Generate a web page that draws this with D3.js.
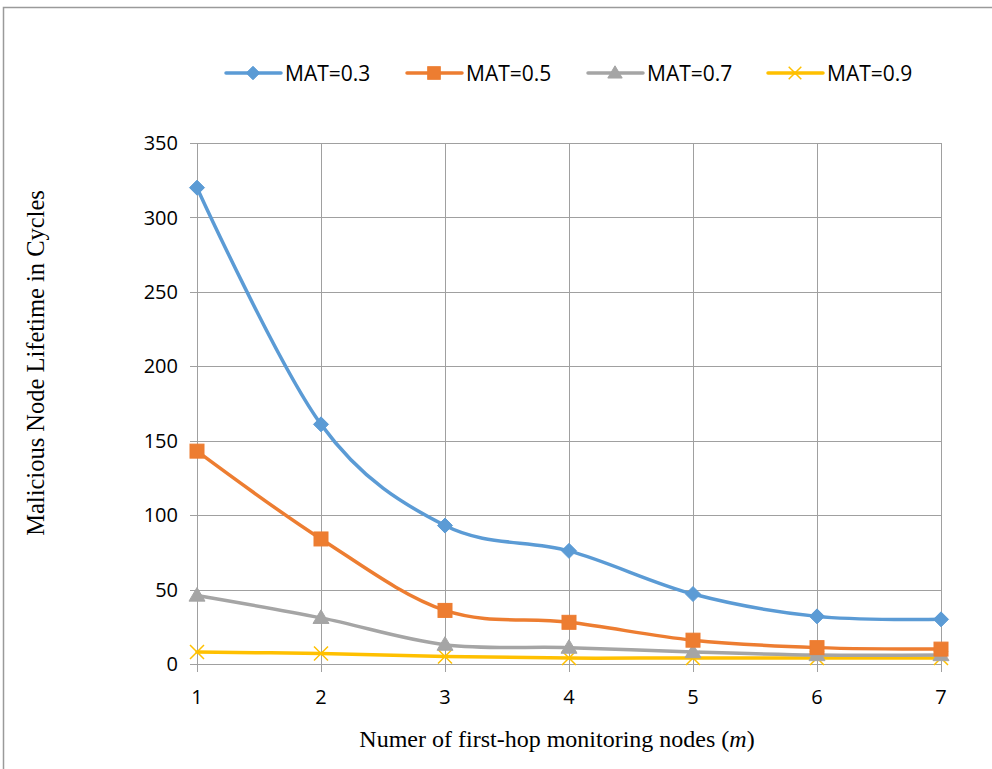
<!DOCTYPE html>
<html>
<head>
<meta charset="utf-8">
<script src="https://cdn.jsdelivr.net/npm/d3@7"></script>
<style>
  html, body { margin: 0; padding: 0; background: #fff; }
  svg { display: block; }
</style>
</head>
<body>
<svg id="chart" width="992" height="769"></svg>
<script>
// Number of first-hop monitoring nodes (m)
const categories = [1, 2, 3, 4, 5, 6, 7];
// Malicious node lifetime (cycles) for each MAT threshold
const mat03 = [320, 161, 93, 76, 47, 32, 30];
const mat05 = [143, 84, 36, 28, 16, 11, 10];
const mat07 = [46, 31, 13, 11, 8, 6, 6];
const mat09 = [8, 7, 5, 4, 4, 4, 4];
const seriesNames = ["MAT=0.3", "MAT=0.5", "MAT=0.7", "MAT=0.9"];
const yTicks = [0, 50, 100, 150, 200, 250, 300, 350];

const seriesStyle = [
  { color: "#5B9BD5", marker: "diamond" },
  { color: "#ED7D31", marker: "square" },
  { color: "#A5A5A5", marker: "triangle" },
  { color: "#FFC000", marker: "cross" }
];
const seriesData = [mat03, mat05, mat07, mat09];

const svg = d3.select("#chart");
const tickFont = "'Open Sans', Lato, sans-serif";
const titleFont = "'Liberation Serif', 'Times New Roman', serif";

// Outer frame (top and left edges)
svg.append("path")
  .attr("d", "M3.5,769 L3.5,7.5 L992,7.5")
  .attr("fill", "none")
  .attr("stroke", "#9a9a9a")
  .attr("stroke-width", 1.5);

const x = d3.scaleLinear().domain([1, 7]).range([197, 941]);
const y = d3.scaleLinear().domain([0, 350]).range([664, 143]);

const grid = svg.append("g");
// horizontal gridlines with outer tick marks
grid.selectAll("line.h").data(yTicks).join("line")
  .attr("x1", 190).attr("x2", 941)
  .attr("y1", d => Math.round(y(d)) + 0.5).attr("y2", d => Math.round(y(d)) + 0.5)
  .attr("stroke", "#a0a0a0").attr("stroke-width", 1);
// vertical gridlines with outer tick marks
grid.selectAll("line.v").data(categories).join("line")
  .attr("y1", 143).attr("y2", 672)
  .attr("x1", d => Math.round(x(d)) + 0.5).attr("x2", d => Math.round(x(d)) + 0.5)
  .attr("stroke", "#a0a0a0").attr("stroke-width", 1);

// Y tick labels
svg.append("g").selectAll("text").data(yTicks).join("text")
  .attr("x", 178).attr("y", d => y(d))
  .attr("dy", "0.36em")
  .attr("text-anchor", "end")
  .attr("font-family", tickFont).attr("font-size", 20).attr("fill", "#000")
  .text(d => d);

// X tick labels
svg.append("g").selectAll("text").data(categories).join("text")
  .attr("x", d => x(d)).attr("y", 697)
  .attr("dy", "0.36em")
  .attr("text-anchor", "middle")
  .attr("font-family", tickFont).attr("font-size", 20).attr("fill", "#000")
  .text(d => d);

// Axis titles
svg.append("text")
  .attr("transform", "translate(44,363) rotate(-90)")
  .attr("text-anchor", "middle")
  .attr("font-family", titleFont).attr("font-size", 24.5).attr("fill", "#000")
  .text("Malicious Node Lifetime in Cycles");

const xTitle = svg.append("text")
  .attr("x", 557).attr("y", 747)
  .attr("text-anchor", "middle")
  .attr("font-family", titleFont).attr("font-size", 24).attr("fill", "#000");
xTitle.append("tspan").text("Numer of first-hop monitoring nodes (");
xTitle.append("tspan").attr("font-style", "italic").text("m");
xTitle.append("tspan").text(")");

// Marker drawing helper
function drawMarker(g, type, cx, cy, color, k = 1) {
  if (type === "diamond") {
    const r = 7.5 * k;
    g.append("path")
      .attr("d", `M${cx},${cy - r} L${cx + r},${cy} L${cx},${cy + r} L${cx - r},${cy} Z`)
      .attr("fill", color).attr("stroke", color).attr("stroke-width", 1);
  } else if (type === "square") {
    const s = 14 * k;
    g.append("rect")
      .attr("x", cx - s / 2).attr("y", cy - s / 2).attr("width", s).attr("height", s)
      .attr("fill", color).attr("stroke", color).attr("stroke-width", 1);
  } else if (type === "triangle") {
    const r = 8 * k;
    g.append("path")
      .attr("d", `M${cx},${cy - r} L${cx + r},${cy + r * 0.7} L${cx - r},${cy + r * 0.7} Z`)
      .attr("fill", color).attr("stroke", color).attr("stroke-width", 1);
  } else if (type === "cross") {
    const r = 7 * k;
    g.append("path")
      .attr("d", `M${cx - r},${cy - r} L${cx + r},${cy + r} M${cx - r},${cy + r} L${cx + r},${cy - r}`)
      .attr("fill", "none").attr("stroke", color).attr("stroke-width", 1.5);
  }
}

// Series lines (smoothed) and markers, drawn from last to first so MAT=0.3 sits on top
const line = d3.line()
  .x((d, i) => x(categories[i]))
  .y(d => y(d))
  .curve(d3.curveCardinal.tension(0));

const plot = svg.append("g");
for (let s = seriesData.length - 1; s >= 0; s--) {
  const g = plot.append("g");
  g.append("path")
    .datum(seriesData[s])
    .attr("d", line)
    .attr("fill", "none")
    .attr("stroke", seriesStyle[s].color)
    .attr("stroke-width", 3.5)
    .attr("stroke-linejoin", "round")
    .attr("stroke-linecap", "round");
  seriesData[s].forEach((v, i) => drawMarker(g, seriesStyle[s].marker, x(categories[i]), y(v), seriesStyle[s].color));
}

// Legend
const legendX = [226, 407, 588, 768];
const legendY = 73;
const legend = svg.append("g");
seriesNames.forEach((name, i) => {
  const g = legend.append("g");
  const x0 = legendX[i];
  g.append("line")
    .attr("x1", x0).attr("x2", x0 + 55)
    .attr("y1", legendY).attr("y2", legendY)
    .attr("stroke", seriesStyle[i].color).attr("stroke-width", 3.5)
    .attr("stroke-linecap", "round");
  drawMarker(g, seriesStyle[i].marker, x0 + 27, legendY, seriesStyle[i].color, 0.9);
  g.append("text")
    .attr("x", x0 + 59).attr("y", legendY)
    .attr("dy", "0.36em")
    .attr("font-family", tickFont).attr("font-size", 21).attr("fill", "#000")
    .text(name);
});
</script>
</body>
</html>
